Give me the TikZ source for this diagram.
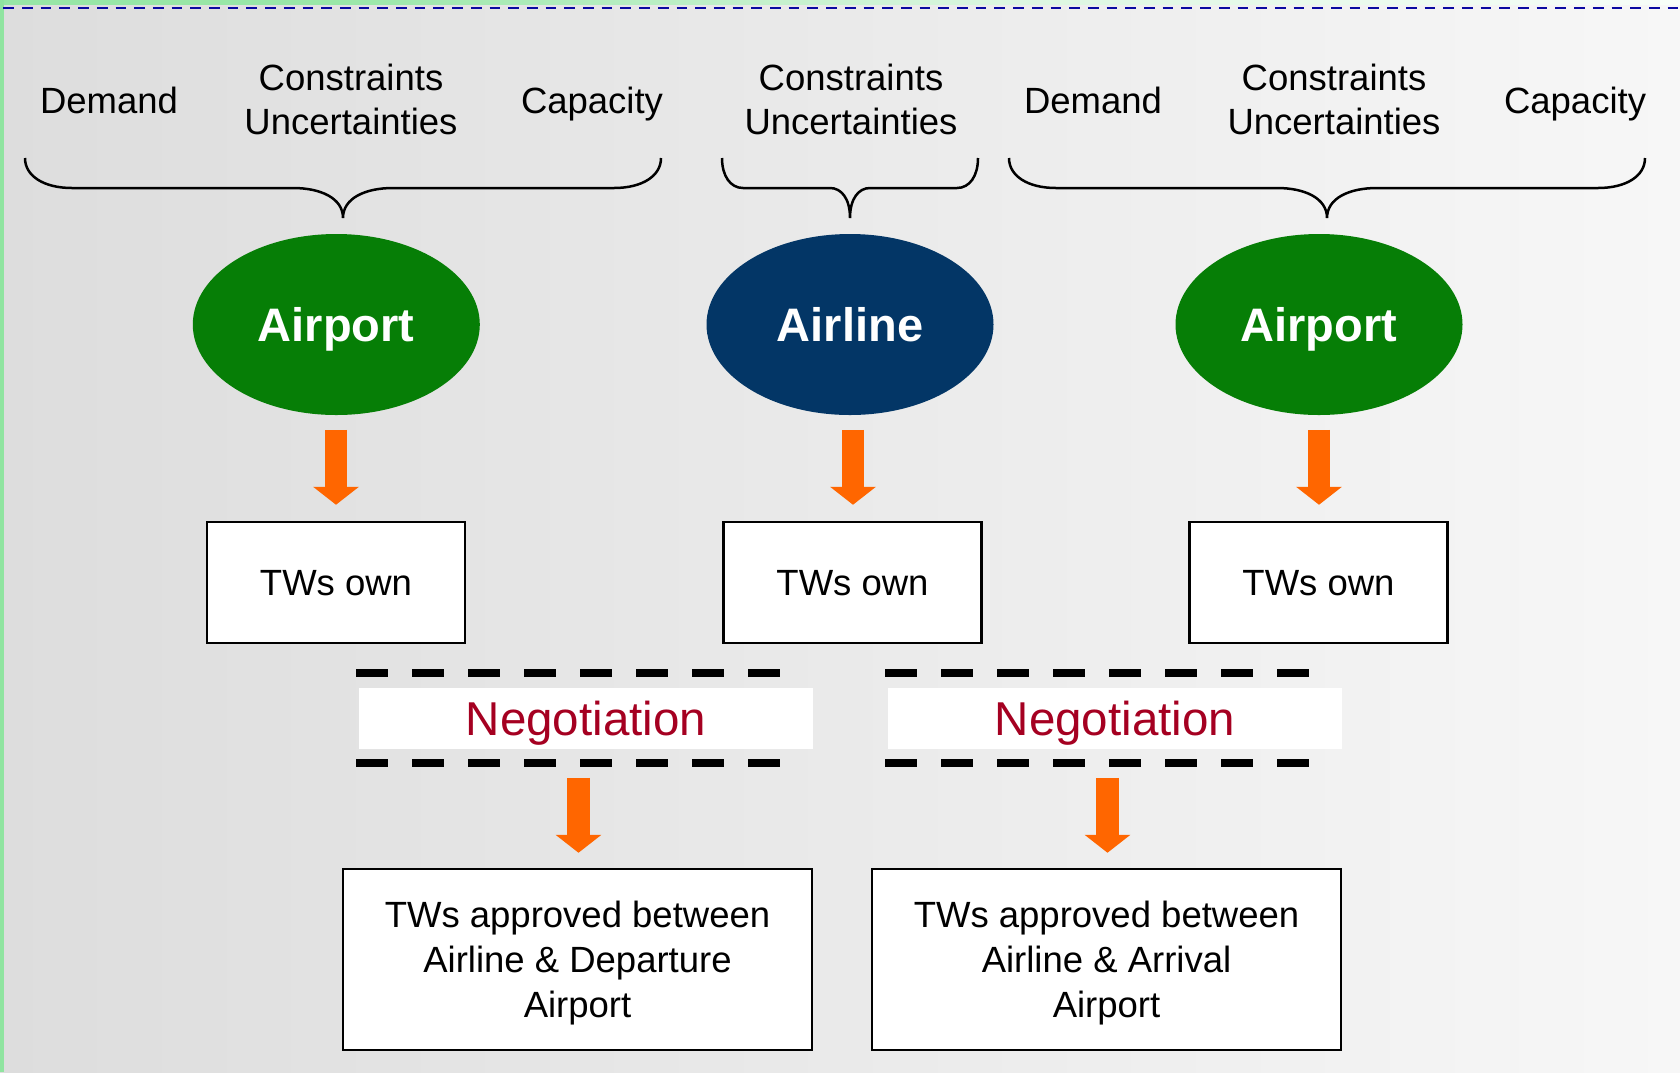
\documentclass[tikz,border=0pt]{standalone}
\usepackage{fontspec}
\setmainfont{Liberation Sans}
\usetikzlibrary{shapes.geometric,arrows.meta,calc}
\definecolor{bgL}{RGB}{221,221,221}
\definecolor{bgR}{RGB}{247,247,247}
\definecolor{stripG}{RGB}{144,228,160}
\definecolor{dashB}{RGB}{10,10,160}
\definecolor{apGreen}{RGB}{6,126,6}
\definecolor{alBlue}{RGB}{3,54,102}
\definecolor{arrOr}{RGB}{255,102,0}
\definecolor{negRed}{RGB}{165,0,33}
\pgfdeclarehorizontalshading{topstrip}{100bp}{%
  rgb(0bp)=(0.565,0.894,0.627); rgb(35bp)=(0.60,0.905,0.66);
  rgb(55bp)=(0.86,0.965,0.88); rgb(75bp)=(0.97,0.995,0.975); rgb(100bp)=(0.98,0.98,0.98)}
\newcommand\mybrace[4]{%
  \pgfmathsetmacro\bm{(#1+#2)/2}%
  \draw[bracestyle] (#1,158) .. controls (#1,176) and ({#1+0.4*#3},188) .. ({#1+#3},188)
    -- ({\bm-#4},188) .. controls ({\bm-0.45*#4},188) and (\bm,198) .. (\bm,218)
    .. controls (\bm,198) and ({\bm+0.45*#4},188) .. ({\bm+#4},188)
    -- ({#2-#3},188) .. controls ({#2-0.4*#3},188) and (#2,176) .. (#2,158);}
\begin{document}
\begin{tikzpicture}[x=1pt,y=-1pt,
  lbl/.style={font=\fontsize{36.5pt}{44pt}\selectfont, align=center, inner sep=0pt, text depth=0pt},
  ell/.style={ellipse, minimum width=287pt, minimum height=181pt, inner sep=0pt,
    text=white, text depth=0pt, font=\fontsize{47pt}{56pt}\selectfont\bfseries},
  twbox/.style={draw=black, line width=2.5pt, fill=white, minimum width=258pt,
    minimum height=121pt, inner sep=0pt, text depth=-4pt, font=\fontsize{36.5pt}{44pt}\selectfont},
  resbox/.style={draw=black, line width=2.5pt, fill=white, minimum width=469pt,
    minimum height=181pt, inner sep=0pt, align=center, text depth=-9pt,
    font=\fontsize{36.5pt}{45pt}\selectfont},
  negbox/.style={fill=white, minimum width=454pt, minimum height=61pt, inner sep=0pt,
    text=negRed, text depth=0pt, font=\fontsize{47.5pt}{56pt}\selectfont},
  negline/.style={line width=8pt, dash pattern=on 31.7pt off 24.3pt},
  bracestyle/.style={line width=2.5pt, black},
  blockarrow/.style={draw=arrOr, line width=22.7pt, -{Triangle[length=18pt,width=45pt]}}
]
\useasboundingbox (0,0) rectangle (1680,1072);
\shade[left color=bgL, right color=bgR] (0,0) rectangle (1680,1072);
\shade[shading=topstrip] (0,0) rectangle (1680,4.3);
\fill[stripG] (0,0) rectangle (3.5,1072);
\draw[dashB, line width=2.2pt, dash pattern=on 10.7pt off 8pt] (3.3,8) -- (1680,8);

% top labels
\node[lbl] (d1) at (109,100) {Demand};
\node[lbl] (c1) at (351,99) {Constraints\\Uncertainties};
\node[lbl] (p1) at (592,100) {Capacity};
\node[lbl] (c2) at (851,99) {Constraints\\Uncertainties};
\node[lbl] (d2) at (1093,100) {Demand};
\node[lbl] (c3) at (1334,99) {Constraints\\Uncertainties};
\node[lbl] (p2) at (1575,100) {Capacity};

% braces
\mybrace{25}{661}{47}{50}
\mybrace{722}{978}{21}{20}
\mybrace{1009}{1645}{47}{50}

% ellipses
\node[ell, fill=apGreen] (ap1) at (336.3,324.5) {Airport};
\node[ell, fill=alBlue] (al) at (850,324.5) {Airline};
\node[ell, fill=apGreen] (ap2) at (1319,324.5) {Airport};

% own boxes
\node[twbox] (tw1) at (336,582.5) {TWs own};
\node[twbox] (tw2) at (852.5,582.5) {TWs own};
\node[twbox] (tw3) at (1318.5,582.5) {TWs own};

% arrows
\draw[blockarrow] ($(tw1.north)+(0,-91)$) -- ($(tw1.north)+(0,-16)$);
\draw[blockarrow] ($(tw2.north)+(0.5,-91)$) -- ($(tw2.north)+(0.5,-16)$);
\draw[blockarrow] ($(tw3.north)+(0.5,-91)$) -- ($(tw3.north)+(0.5,-16)$);

% negotiation
\node[negbox] (n1) at (586,718.5) {Negotiation};
\node[negbox] (n2) at (1115,718.5) {Negotiation};
\draw[negline] (356,673) -- (780,673);
\draw[negline] (356,763) -- (780,763);
\draw[negline] (885,673) -- (1309,673);
\draw[negline] (885,763) -- (1309,763);

% result boxes
\node[resbox] (r1) at (577.5,959.5) {TWs approved between\\Airline \& Departure\\Airport};
\node[resbox] (r2) at (1106.5,959.5) {TWs approved between\\Airline \& Arrival\\Airport};

\draw[blockarrow] ($(r1.north)+(1,-90)$) -- ($(r1.north)+(1,-15)$);
\draw[blockarrow] ($(r2.north)+(1,-90)$) -- ($(r2.north)+(1,-15)$);
\end{tikzpicture}
\end{document}
